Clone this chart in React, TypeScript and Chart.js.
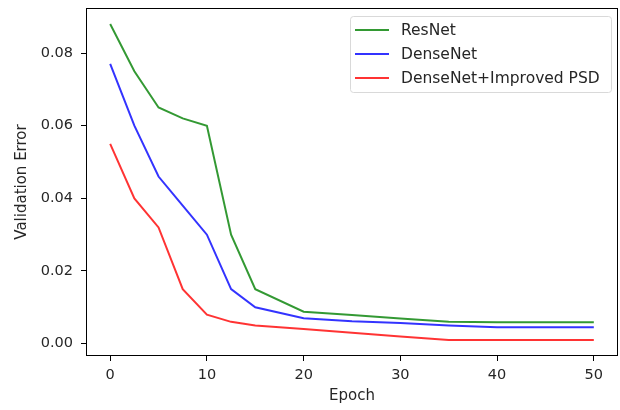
import React, { useEffect, useRef } from "react";
import { Chart, registerables } from "chart.js";

Chart.register(...registerables);

const epochs = [0, 2.5, 5, 7.5, 10, 12.5, 15, 20, 25, 30, 35, 40, 45, 50];
const resnet = [0.088, 0.075, 0.065, 0.062, 0.06, 0.03, 0.015, 0.0088, 0.0079, 0.0069, 0.006, 0.0059, 0.0059, 0.0059];
const densenet = [0.077, 0.06, 0.046, 0.038, 0.03, 0.015, 0.01, 0.007, 0.0062, 0.0057, 0.005, 0.0045, 0.0045, 0.0045];
const improved = [0.055, 0.04, 0.032, 0.015, 0.008, 0.006, 0.005, 0.004, 0.003, 0.002, 0.001, 0.001, 0.001, 0.001];
const seriesNames = ["ResNet", "DenseNet", "DenseNet+Improved PSD"];
const xTicks = [0, 10, 20, 30, 40, 50];
const yTicks = [0, 0.02, 0.04, 0.06, 0.08];

const FONT = "'DejaVu Sans', sans-serif";
const TEXT = "#262626";

const frameAndLegend = {
  id: "frameAndLegend",
  afterDraw(chart: any) {
    const { ctx, chartArea: a } = chart;
    ctx.save();
    ctx.strokeStyle = "#000";
    ctx.lineWidth = 1;
    ctx.strokeRect(Math.round(a.left) + 0.5, Math.round(a.top) + 0.5, Math.round(a.right - a.left) - 1, Math.round(a.bottom - a.top) - 1);

    // legend box (matplotlib style, upper right)
    const bx = 350.5, by = 16.5, bw = 261, bh = 76;
    ctx.fillStyle = "rgba(255,255,255,0.8)";
    ctx.strokeStyle = "#d9d9d9";
    ctx.lineWidth = 1;
    const r = 3;
    ctx.beginPath();
    ctx.moveTo(bx + r, by);
    ctx.lineTo(bx + bw - r, by);
    ctx.quadraticCurveTo(bx + bw, by, bx + bw, by + r);
    ctx.lineTo(bx + bw, by + bh - r);
    ctx.quadraticCurveTo(bx + bw, by + bh, bx + bw - r, by + bh);
    ctx.lineTo(bx + r, by + bh);
    ctx.quadraticCurveTo(bx, by + bh, bx, by + bh - r);
    ctx.lineTo(bx, by + r);
    ctx.quadraticCurveTo(bx, by, bx + r, by);
    ctx.closePath();
    ctx.fill();
    ctx.stroke();

    ctx.font = `15.5px ${FONT}`;
    ctx.textBaseline = "middle";
    chart.data.datasets.forEach((ds: any, i: number) => {
      const y = 30 + i * 24;
      ctx.strokeStyle = ds.borderColor;
      ctx.lineWidth = 2;
      ctx.beginPath();
      ctx.moveTo(355, y);
      ctx.lineTo(389, y);
      ctx.stroke();
      ctx.fillStyle = TEXT;
      ctx.fillText(ds.label, 401, y + 1);
    });
    ctx.restore();
  },
};

export default function App() {
  const ref = useRef<HTMLCanvasElement>(null);
  useEffect(() => {
    const colors = ["rgba(0,128,0,0.8)", "rgba(0,0,255,0.8)", "rgba(255,0,0,0.8)"];
    const all = [resnet, densenet, improved];
    const chart = new Chart(ref.current!, {
      type: "line",
      data: {
        datasets: all.map((vals, i) => ({
          label: seriesNames[i],
          data: epochs.map((e, j) => ({ x: e, y: vals[j] })),
          borderColor: colors[i],
          backgroundColor: colors[i],
          borderWidth: 2,
          pointRadius: 0,
          tension: 0,
          fill: false,
        })),
      },
      options: {
        responsive: false,
        animation: false,
        layout: { padding: { top: 8, right: 2, left: 0, bottom: 0 } },
        plugins: { legend: { display: false }, tooltip: { enabled: false } },
        scales: {
          x: {
            type: "linear",
            min: -2.5,
            max: 52.5,
            afterBuildTicks: (s: any) => { s.ticks = xTicks.map((v) => ({ value: v })); },
            afterFit: (s: any) => { s.height = 54; s.paddingLeft = 0; s.paddingRight = 0; },
            grid: { drawOnChartArea: false, drawTicks: true, tickLength: 5, tickColor: "#000" },
            border: { display: false },
            ticks: { color: TEXT, font: { family: FONT, size: 14.5 }, padding: 6, maxRotation: 0 },
            title: { display: true, text: "Epoch", color: TEXT, font: { family: FONT, size: 15 }, padding: { top: 4, bottom: 5 } },
          },
          y: {
            min: -0.0034,
            max: 0.0924,
            afterBuildTicks: (s: any) => { s.ticks = yTicks.map((v) => ({ value: v })); },
            afterFit: (s: any) => { s.width = 86; s.paddingTop = 0; s.paddingBottom = 0; },
            grid: { drawOnChartArea: false, drawTicks: true, tickLength: 5, tickColor: "#000" },
            border: { display: false },
            ticks: { color: TEXT, font: { family: FONT, size: 14.5 }, padding: 8, callback: (v: any) => Number(v).toFixed(2) },
            title: { display: true, text: "Validation Error", color: TEXT, font: { family: FONT, size: 15 }, padding: { top: 13, bottom: 6 } },
          },
        },
      },
      plugins: [frameAndLegend],
    });
    return () => chart.destroy();
  }, []);
  return (
    <div style={{ position: "fixed", left: 0, top: 0, width: 620, height: 410, background: "#fff" }}>
      <canvas ref={ref} width={620} height={410} style={{ width: 620, height: 410 }} />
    </div>
  );
}
